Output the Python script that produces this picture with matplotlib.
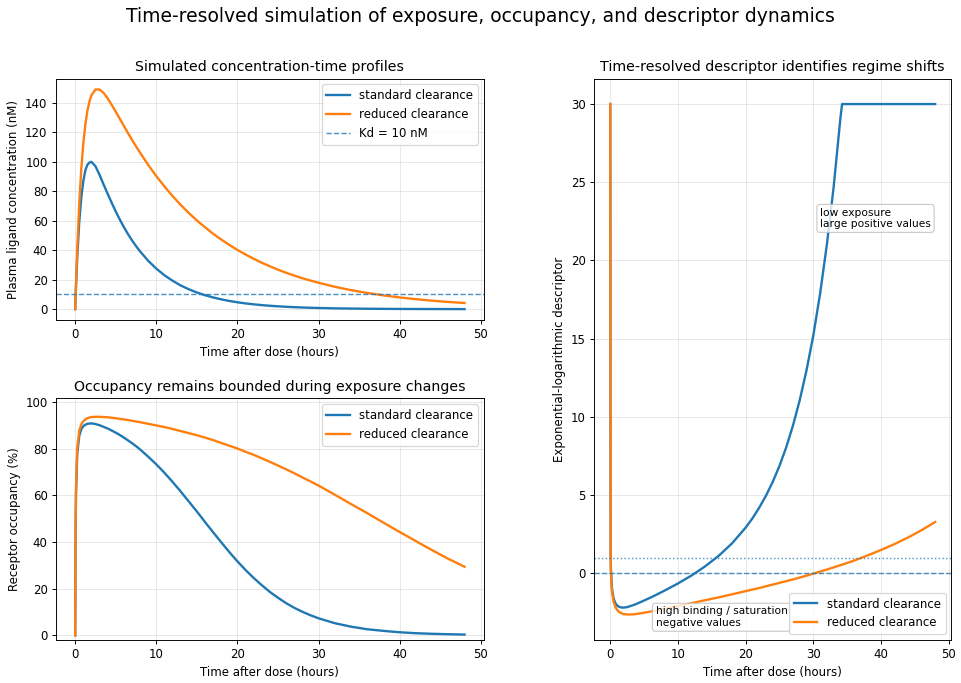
import matplotlib
matplotlib.use("Agg")
import matplotlib.pyplot as plt

# time grid (hours after dose) for exposure / occupancy panels
hours = [0, 0.05, 0.1, 0.25, 0.5, 0.75, 1, 1.25, 1.5, 1.75, 2, 2.5, 3, 3.5, 4,
         4.5, 5, 5.5, 6, 6.5, 7, 7.5,
         8, 9, 10, 11, 12, 13, 14, 15, 16, 17, 18, 19, 20, 21, 22, 23, 24, 25,
         26, 27, 28, 29, 30,
         32, 34, 36, 38, 40, 42, 44, 46, 48]

# plasma ligand concentration (nM)
conc_standard = [0, 8.0, 15.5, 35.0, 59.3, 75.9, 86.9, 94.3, 98.0, 99.5, 100.0,
                 97.0, 91.2, 84.6, 78.3, 72.2, 66.3, 60.8, 55.7, 51.0, 46.7, 42.8,
                 39.2, 32.8, 27.5, 23.0, 19.3, 16.1, 13.5, 11.3, 9.47, 7.93,
                 6.64, 5.56, 4.65, 3.90, 3.26, 2.73, 2.29, 1.92, 1.60, 1.34,
                 1.12, 0.94, 0.79,
                 0.55, 0.39, 0.27, 0.19, 0.13, 0.09, 0.07, 0.05, 0.03]
conc_reduced = [0, 9.1, 17.7, 40.8, 71.8, 95.2, 112.5, 125.3, 134.5, 140.9,
                145.2, 149.1, 149.1, 146.8, 143.1, 138.7, 134.0, 129.2, 124.4,
                119.6, 115.0, 110.5,
                106.2, 97.9, 90.3, 83.3, 76.8, 70.8, 65.3, 60.2, 55.6, 51.2,
                47.3, 43.6, 40.2, 37.1, 34.2, 31.5, 29.1, 26.8, 24.7, 22.8,
                21.0, 19.4, 17.9,
                15.2, 12.9, 11.0, 9.35, 7.95, 6.77, 5.75, 4.89, 4.16]

# receptor occupancy (%)
occ_standard = [0, 44.4, 60.7, 77.8, 85.6, 88.4, 89.7, 90.3, 90.7, 90.8, 90.9,
                90.6, 90.1, 89.4, 88.7, 87.8, 86.9, 85.9, 84.8, 83.6, 82.4, 81.1,
                79.7, 76.6, 73.3, 69.7, 65.8, 61.7, 57.4, 53.1, 48.6, 44.2,
                39.9, 35.7, 31.7, 28.0, 24.6, 21.5, 18.6, 16.1, 13.8, 11.8,
                10.1, 8.6, 7.3,
                5.2, 3.7, 2.6, 1.9, 1.3, 0.9, 0.65, 0.46, 0.32]
occ_reduced = [0, 47.6, 63.9, 80.3, 87.8, 90.5, 91.8, 92.6, 93.1, 93.4, 93.6,
               93.7, 93.7, 93.6, 93.5, 93.3, 93.1, 92.8, 92.6, 92.3, 92.0, 91.7,
               91.4, 90.7, 90.0, 89.3, 88.5, 87.6, 86.7, 85.8, 84.8, 83.7,
               82.5, 81.3, 80.1, 78.7, 77.4, 75.9, 74.4, 72.8, 71.2, 69.5,
               67.7, 66.0, 64.2,
               60.3, 56.3, 52.4, 48.3, 44.3, 40.4, 36.5, 32.8, 29.4]

# descriptor panel (clipped at 30)
desc_hours = [0, 0.05, 0.1, 0.25, 0.5, 0.75, 1, 1.25, 1.5, 1.75, 2, 2.5, 3,
              3.5, 4, 5, 6, 7, 8, 10, 12, 14, 16, 18, 20, 21, 22, 23, 24, 25,
              26, 27, 28, 29, 30, 31, 32, 33, 34, 34.25, 36, 38, 40, 42, 44,
              46, 48]
desc_standard = [30, 1.47, 0.21, -0.97, -1.61, -1.90, -2.05, -2.13, -2.17,
                 -2.19, -2.19, -2.16, -2.09, -2.02, -1.93, -1.74, -1.54, -1.33,
                 -1.11, -0.65, -0.14, 0.44, 1.11, 1.92, 2.92, 3.51, 4.19, 4.96,
                 5.84, 6.87, 8.06, 9.46, 11.08, 12.99, 15.21, 17.87, 21.01,
                 24.68, 29.09, 30, 30, 30, 30, 30, 30, 30, 30]
desc_reduced = [30, 1.20, 0.00, -1.16, -1.83, -2.15, -2.33, -2.45, -2.52,
                -2.57, -2.61, -2.63, -2.63, -2.62, -2.59, -2.52, -2.44, -2.36,
                -2.27, -2.09, -1.91, -1.72, -1.54, -1.34, -1.14, -1.04, -0.94,
                -0.83, -0.72, -0.61, -0.50, -0.39, -0.27, -0.15, -0.02, 0.11,
                0.24, 0.38, 0.52, 0.55, 0.81, 1.14, 1.49, 1.87, 2.29, 2.76, 3.28]

kd = 10
labels = ["standard clearance", "reduced clearance"]
xlabel = "Time after dose (hours)"

dpi = 84.7
fig = plt.figure(figsize=(961 / dpi, 683 / dpi), dpi=dpi)
gs = fig.add_gridspec(2, 2, width_ratios=[0.4457, 0.3719], left=0.058,
                      right=0.990, bottom=0.063, top=0.885, wspace=0.28,
                      hspace=0.324)
ax1 = fig.add_subplot(gs[0, 0])
ax2 = fig.add_subplot(gs[1, 0])
ax3 = fig.add_subplot(gs[:, 1])

# concentration
ax1.plot(hours, conc_standard, lw=2, label=labels[0])
ax1.plot(hours, conc_reduced, lw=2, label=labels[1])
ax1.axhline(kd, ls="--", lw=1.2, color="C0", alpha=0.8, label="Kd = 10 nM")
ax1.set_title("Simulated concentration-time profiles")
ax1.set_xlabel(xlabel)
ax1.set_ylabel("Plasma ligand concentration (nM)")
ax1.legend(loc="upper right")
ax1.grid(True, alpha=0.3)

# occupancy
ax2.plot(hours, occ_standard, lw=2, label=labels[0])
ax2.plot(hours, occ_reduced, lw=2, label=labels[1])
ax2.set_ylim(-2, 101.6)
ax2.set_title("Occupancy remains bounded during exposure changes")
ax2.set_xlabel(xlabel)
ax2.set_ylabel("Receptor occupancy (%)")
ax2.legend(loc="upper right")
ax2.grid(True, alpha=0.3)

# descriptor
ax3.plot(desc_hours, desc_standard, lw=2, label=labels[0])
ax3.plot(desc_hours, desc_reduced, lw=2, label=labels[1])
ax3.axhline(0, ls="--", lw=1.2, color="C0", alpha=0.8)
ax3.axhline(1, ls=":", lw=1.2, color="C0", alpha=0.8)
box = dict(boxstyle="round", fc="white", ec="0.75", alpha=0.8)
ax3.text(31, 22, "low exposure\nlarge positive values", fontsize=9,
         va="bottom", bbox=box)
ax3.text(6.7, -3.5, "high binding / saturation\nnegative values", fontsize=9,
         va="bottom", bbox=box)
ax3.set_title("Time-resolved descriptor identifies regime shifts")
ax3.set_xlabel(xlabel)
ax3.set_ylabel("Exponential-logarithmic descriptor")
ax3.legend(loc="lower right")
ax3.grid(True, alpha=0.3)

fig.suptitle("Time-resolved simulation of exposure, occupancy, and descriptor dynamics",
             fontsize=16, y=0.99)

plt.savefig("out.png", dpi=dpi)
